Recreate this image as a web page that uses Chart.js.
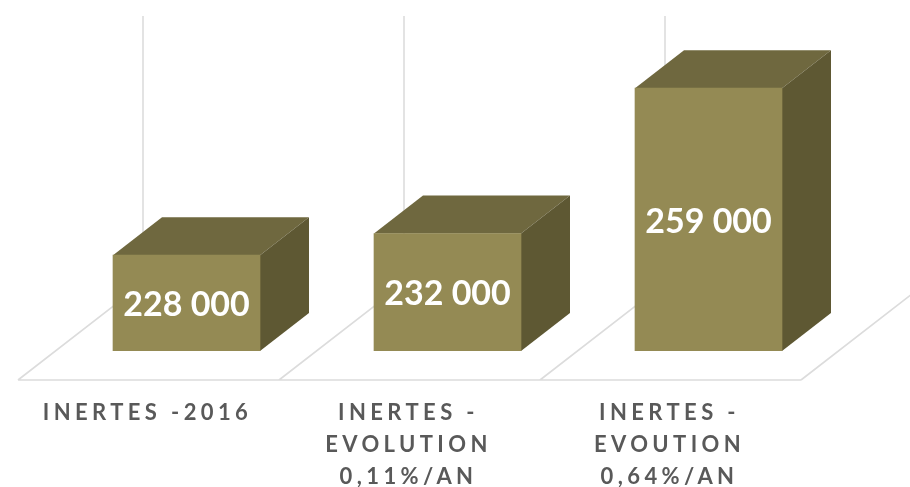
<!DOCTYPE html>
<html>
<head>
<meta charset="utf-8">
<style>
  html, body { margin: 0; background: #fff; }
  canvas { display: block; }
</style>
<script src="https://cdn.jsdelivr.net/npm/chart.js@4"></script>
</head>
<body>
<canvas id="chart" width="910" height="487"></canvas>
<script>
// ── Data ──
const categories = [
  ['INERTES -2016'],
  ['INERTES -', 'EVOLUTION', '0,11%/AN'],
  ['INERTES -', 'EVOUTION', '0,64%/AN'],
];
const tonnages = [228000, 232000, 259000];
const axisMin = 210200;   // truncated axis, the bars do not start at zero
const axisMax = 272400;

// ── Look ──
const FRONT = '#948a54', TOP = '#6f683f', SIDE = '#5e5833', WALL = '#dcdcdc';
const DEPTH_X = 49, DEPTH_Y = 38;    // 3D box offset
const FLOOR_DROP = 29;               // floor front edge below the bar base
const FLOOR_SHIFT = 38;              // slot start → bar centre distance, see labelOffset

const fmt = n => String(n).replace(/\B(?=(\d{3})+$)/g, ' ');

// Floor and back walls, then the top and side faces behind the native front bar
const box3d = {
  id: 'box3d',
  beforeDraw(chart) {
    // picked up by the axis labels, reset before the values are drawn
    chart.ctx.letterSpacing = '4.4px';
  },
  beforeDatasetsDraw(chart) {
    const { ctx, chartArea, scales: { x } } = chart;
    const floorY = chartArea.bottom + FLOOR_DROP;
    const step = x.getPixelForValue(1) - x.getPixelForValue(0);
    const left0 = x.getPixelForValue(0) - step / 2 - FLOOR_SHIFT;
    const slope = DEPTH_Y / DEPTH_X;
    const wallX = 125;

    ctx.save();
    ctx.strokeStyle = WALL;
    ctx.lineWidth = 1.6;
    ctx.beginPath();
    ctx.moveTo(left0, floorY);
    ctx.lineTo(left0 + step * categories.length, floorY);
    for (let i = 0; i <= categories.length; i++) {
      const fx = left0 + step * i;
      ctx.moveTo(fx, floorY);
      ctx.lineTo(fx + wallX, floorY - wallX * slope);
      ctx.lineTo(fx + wallX, chartArea.top);
    }
    ctx.stroke();

    chart.getDatasetMeta(0).data.forEach(bar => {
      const l = bar.x - bar.width / 2, r = bar.x + bar.width / 2;
      ctx.fillStyle = TOP;
      ctx.beginPath();
      ctx.moveTo(l, bar.y);
      ctx.lineTo(l + DEPTH_X, bar.y - DEPTH_Y);
      ctx.lineTo(r + DEPTH_X, bar.y - DEPTH_Y);
      ctx.lineTo(r, bar.y);
      ctx.closePath();
      ctx.fill();
      ctx.fillStyle = SIDE;
      ctx.beginPath();
      ctx.moveTo(r, bar.y);
      ctx.lineTo(r + DEPTH_X, bar.y - DEPTH_Y);
      ctx.lineTo(r + DEPTH_X, bar.base - DEPTH_Y);
      ctx.lineTo(r, bar.base);
      ctx.closePath();
      ctx.fill();
    });
    ctx.restore();
  },
  afterDatasetsDraw(chart) {
    const { ctx } = chart;
    ctx.save();
    ctx.letterSpacing = '0px';
    ctx.font = 'bold 34px Lato, "Open Sans", sans-serif';
    ctx.fillStyle = '#ffffff';
    ctx.textAlign = 'center';
    ctx.textBaseline = 'middle';
    chart.getDatasetMeta(0).data.forEach((bar, i) => {
      ctx.fillText(fmt(tonnages[i]), bar.x, (bar.y + bar.base) / 2 + 2);
    });
    ctx.restore();
  },
};

new Chart(document.getElementById('chart'), {
  type: 'bar',
  data: {
    labels: categories,
    datasets: [{
      data: tonnages,
      base: axisMin,
      backgroundColor: FRONT,
      barThickness: 147,
    }],
  },
  plugins: [box3d],
  options: {
    responsive: false,
    animation: false,
    layout: { padding: { left: 56, right: 71, top: 16, bottom: 0 } },
    plugins: { legend: { display: false }, tooltip: { enabled: false } },
    scales: {
      x: {
        grid: { display: false },
        border: { display: false },
        afterFit: s => { s.height = 136; },
        ticks: {
          autoSkip: false,
          maxRotation: 0,
          minRotation: 0,
          padding: 38,
          labelOffset: -39,
          color: '#595959',
          font: { family: 'Lato, "Open Sans", sans-serif', size: 22, weight: 'bold', lineHeight: 1.45 },
        },
      },
      y: { display: false, min: axisMin, max: axisMax },
    },
  },
});
</script>
</body>
</html>
